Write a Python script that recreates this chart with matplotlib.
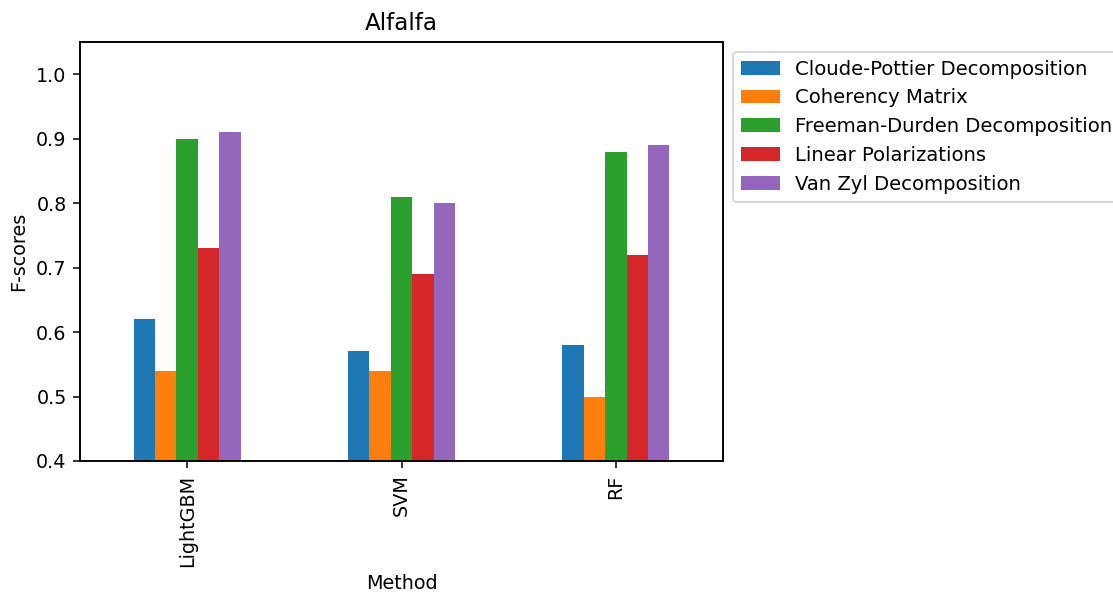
import matplotlib
matplotlib.use("Agg")
import matplotlib.pyplot as plt
import numpy as np

methods = ["LightGBM", "SVM", "RF"]
series_names = ["Cloude-Pottier Decomposition", "Coherency Matrix",
                "Freeman-Durden Decomposition", "Linear Polarizations",
                "Van Zyl Decomposition"]
cloude = [0.62, 0.57, 0.58]
coherency = [0.54, 0.54, 0.50]
freeman = [0.90, 0.81, 0.88]
linear = [0.73, 0.69, 0.72]
vanzyl = [0.91, 0.80, 0.89]
values = [cloude, coherency, freeman, linear, vanzyl]
colors = ["#1f77b4", "#ff7f0e", "#2ca02c", "#d62728", "#9467bd"]

s = 1.38
fs = 10 * s
plt.rcParams.update({
    "axes.linewidth": 1.0 * s,
    "xtick.major.width": 0.8 * s,
    "ytick.major.width": 0.8 * s,
    "xtick.major.size": 3.5 * s,
    "ytick.major.size": 3.5 * s,
    "xtick.major.pad": 3.5 * s,
    "ytick.major.pad": 3.5 * s,
    "legend.edgecolor": "0.8",
})

fig = plt.figure(figsize=(11.13, 5.94), dpi=100)
ax = fig.add_axes([80/1113, 1-461/594, (723-80)/1113, (461-42)/594])

x = np.arange(len(methods))
n = len(values)
w = 0.5 / n
for i, (name, vals) in enumerate(zip(series_names, values)):
    ax.bar(x - 0.25 + w * (i + 0.5), vals, width=w, color=colors[i], label=name)

ax.set_xticks(x)
ax.set_xticklabels(methods, rotation=90, fontsize=fs)
ax.set_xlim(-0.5, 2.5)
ax.set_ylim(0.4, 1.05)
ax.set_yticks([0.4, 0.5, 0.6, 0.7, 0.8, 0.9, 1.0])
ax.set_yticklabels(["0.4", "0.5", "0.6", "0.7", "0.8", "0.9", "1.0"], fontsize=fs)
ax.set_xlabel("Method", fontsize=fs, labelpad=4 * s)
ax.set_ylabel("F-scores", fontsize=fs, labelpad=4 * s)
ax.set_title("Alfalfa", fontsize=12 * s, pad=6 * s)
leg = ax.legend(bbox_to_anchor=(1.0, 1.0), loc="upper left", fontsize=14.1)
leg.get_frame().set_linewidth(1.0 * s)

fig.savefig("out.png", dpi=100)
